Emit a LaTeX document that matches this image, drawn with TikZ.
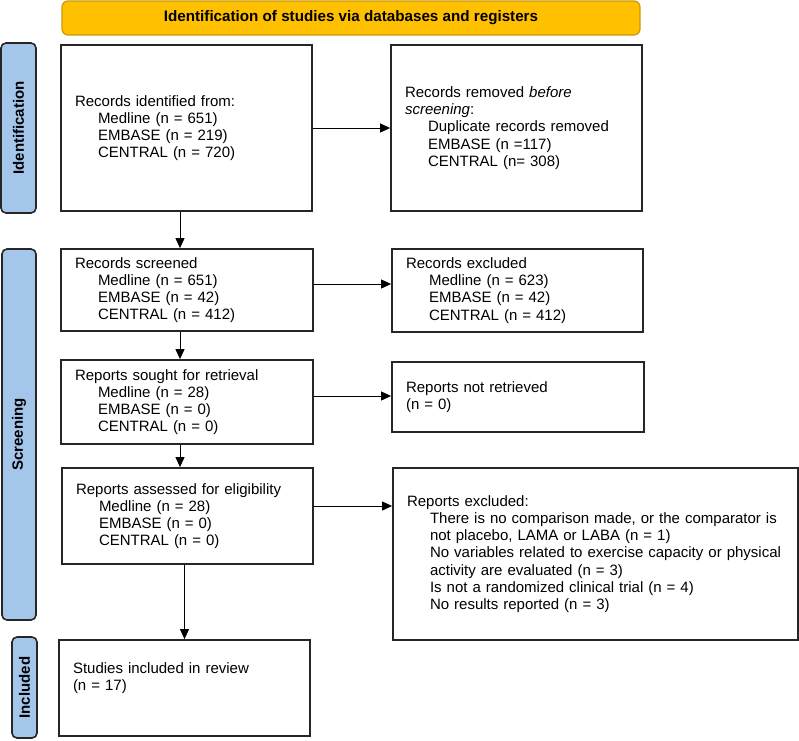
\documentclass[tikz,border=0pt]{standalone}
\usepackage{fontspec}
\setmainfont{Liberation Sans}
\usetikzlibrary{arrows.meta}

\definecolor{hdrgold}{HTML}{FFC000}
\definecolor{hdrline}{HTML}{C9990A}
\definecolor{barblue}{HTML}{A3C6EA}
\newcommand{\ind}{\hspace*{23pt}}

\begin{document}
\begin{tikzpicture}[x=1pt,y=-1pt,
    box/.style={draw=black!85, line width=1.8pt, inner xsep=14pt, inner ysep=0pt, align=left, font=\fontsize{15}{17.2}\selectfont},
    bar/.style={draw=black!85, fill=barblue, line width=1.6pt, rounded corners=5pt, rotate=90, inner sep=0pt, font=\bfseries\fontsize{15}{17}\selectfont},
    hdr/.style={draw=hdrline, fill=hdrgold, line width=1.2pt, rounded corners=6pt, inner sep=0pt, font=\bfseries\fontsize{15.2}{17}\selectfont},
    arr/.style={-{Triangle[length=10pt,width=9pt]}, line width=1pt}]
        \useasboundingbox (0,0) rectangle (799,740);  % page size

        % Header and phase bars
        \node[hdr, minimum width=578pt, minimum height=34pt] (head) at (351,18) {Identification of studies via databases and registers};
        \node[bar, minimum width=170pt, minimum height=35pt] (idbar) at (18.5,128) {Identification};
        \node[bar, minimum width=371pt, minimum height=34pt] (scrbar) at (19,434.5) {Screening};
        \node[bar, minimum width=101pt, minimum height=25pt] (incbar) at (24.5,687.5) {Included};

        % Identification
        \node[box, text width=223pt, minimum height=166pt] (recid) at (186.5,128) {Records identified from:\\ \ind Medline (n = 651)\\ \ind EMBASE (n = 219)\\ \ind CENTRAL (n = 720)};
        \node[box, text width=223pt, minimum height=166pt] (removed) at (516.5,128) {Records removed \textit{before}\\ \textit{screening}:\\ \ind Duplicate records removed\\ \ind EMBASE (n =117)\\ \ind CENTRAL (n= 308)};

        % Screening
        \node[box, text width=224pt, minimum height=82pt] (screened) at (187,290) {Records screened\\ \ind Medline (n = 651)\\ \ind EMBASE (n = 42)\\ \ind CENTRAL (n = 412)};
        \node[box, text width=223pt, minimum height=83pt] (excluded) at (517.5,290.5) {Records excluded\\ \ind Medline (n = 623)\\ \ind EMBASE (n = 42)\\ \ind CENTRAL (n = 412)};
        \node[box, text width=224pt, minimum height=84pt] (sought) at (187,402) {Reports sought for retrieval\\ \ind Medline (n = 28)\\ \ind EMBASE (n = 0)\\ \ind CENTRAL (n = 0)};
        \node[box, text width=224pt, minimum height=70pt] (notret) at (518,397) {Reports not retrieved\\ (n = 0)};
        \node[box, text width=223pt, minimum height=96pt] (assessed) at (187.5,516) {Reports assessed for eligibility\\ \ind Medline (n = 28)\\ \ind EMBASE (n = 0)\\ \ind CENTRAL (n = 0)};
        \node[box, text width=377pt, minimum height=172pt] (repexcl) at (595.5,554) {Reports excluded:\\ \ind There is no comparison made, or the comparator is\\ \ind not placebo, LAMA or LABA (n = 1)\\ \ind No variables related to exercise capacity or physical\\ \ind activity are evaluated (n = 3)\\ \ind Is not a randomized clinical trial (n = 4)\\ \ind No results reported (n = 3)};

        % Included
        \node[box, text width=223pt, minimum height=96pt] (included) at (184.5,688) {Studies included in review\\ (n = 17)\\ \strut};

        % Arrows
        \draw[arr] (recid.east) -- (removed.west);
        \draw[arr] ([xshift=-6.5pt]recid.south) -- ([xshift=-6.5pt]recid.south |- screened.north);
        \draw[arr] ([yshift=6pt]screened.east) -- ([yshift=6pt]screened.east -| excluded.west);
        \draw[arr] ([xshift=-7pt]screened.south) -- ([xshift=-7pt]screened.south |- sought.north);
        \draw[arr] ([yshift=6pt]sought.east) -- ([yshift=6pt]sought.east -| notret.west);
        \draw[arr] ([xshift=-7pt]sought.south) -- ([xshift=-7pt]sought.south |- assessed.north);
        \draw[arr] ([yshift=10pt]assessed.east) -- ([yshift=10pt]assessed.east -| repexcl.west);
        \draw[arr] ([xshift=-3pt]assessed.south) -- ([xshift=-3pt]assessed.south |- included.north);
    \end{tikzpicture}
\end{document}
